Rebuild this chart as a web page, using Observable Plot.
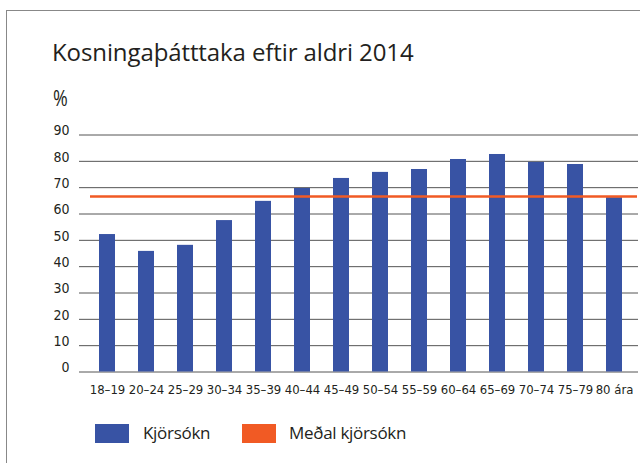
<!DOCTYPE html>
<html><head><meta charset="utf-8">
<script src="https://cdn.jsdelivr.net/npm/d3@7"></script>
<script src="https://cdn.jsdelivr.net/npm/@observablehq/plot@0.6"></script>
<style>
html,body{margin:0;padding:0;background:#fff;overflow:hidden;width:640px;height:463px;}
#wrap{position:relative;width:640px;height:463px;overflow:hidden;color:#222;}
#frame{position:absolute;left:6px;top:10px;width:634px;height:453px;border-left:1.5px solid #888;border-top:1.5px solid #888;box-sizing:border-box;}
#title{position:absolute;left:52px;top:35px;font-family:"Open Sans",sans-serif;font-size:24px;letter-spacing:-0.1px;color:#231f20;white-space:nowrap;}
#pct{position:absolute;left:53px;top:84px;font-family:"Open Sans",sans-serif;font-size:21px;color:#231f20;transform:scaleX(0.85);transform-origin:0 0;}
#chart{position:absolute;left:0;top:80px;width:640px;height:330px;}
.lg{position:absolute;top:424px;width:34px;height:19px;}
.lt{position:absolute;top:421px;font-family:"Open Sans",sans-serif;font-size:17px;letter-spacing:-0.3px;color:#231f20;white-space:nowrap;}
</style></head>
<body><div id="wrap">
<div id="frame"></div>
<div id="title">Kosningaþátttaka eftir aldri 2014</div>
<div id="pct">%</div>
<div id="chart"></div>
<div class="lg" style="left:95px;background:#3853a4"></div>
<div class="lt" style="left:143px">Kjörsókn</div>
<div class="lg" style="left:242px;background:#f15a24"></div>
<div class="lt" style="left:289px">Meðal kjörsókn</div>
</div>
<script>
const categories = ["18–19","20–24","25–29","30–34","35–39","40–44","45–49","50–54","55–59","60–64","65–69","70–74","75–79","80 ára"];
const turnout = [52.2, 45.8, 48.1, 57.5, 64.8, 69.7, 73.5, 75.8, 76.9, 80.7, 82.6, 79.6, 78.8, 66.2];
const meanTurnout = 66.6;
const yTicks = [0,10,20,30,40,50,60,70,80,90];

function has(f){
  const c=document.createElement("canvas").getContext("2d");
  c.font="20px monospace"; const a=c.measureText("18–19 abcxyz").width;
  c.font=`20px "${f}", monospace`; const b=c.measureText("18–19 abcxyz").width;
  return Math.abs(a-b)>0.5;
}
const narrow = ["Liberation Sans Narrow","DejaVu Sans Condensed","Liberation Sans"].find(has) || "sans-serif";

const data = categories.map((c,i)=>({age:c, value:turnout[i]}));

const plot = Plot.plot({
  width: 640,
  height: 330,
  marginLeft: 79,
  marginRight: 0,
  marginTop: 54.5,
  marginBottom: 38.5,
  style: {fontFamily: `"${narrow}",sans-serif`, fontSize: "13px", color:"#231f20", background:"transparent", maxWidth:"none", overflow:"visible"},
  x: {domain: categories, paddingInner: 0.6, paddingOuter: 0.3, insetLeft: 2, label: null, tickSize: 0, tickPadding: 12.5},
  y: {domain: [0, 90], ticks: yTicks, label: null, tickSize: 0, tickPadding: 10},
  marks: [
    Plot.ruleY(yTicks, {stroke: "#555", strokeWidth: 1, insetRight: 2}),
    Plot.barY(data, {x: "age", y: "value", fill: "#3853a4"}),
    Plot.ruleY([meanTurnout], {stroke: "#f15a24", strokeWidth: 2.5, insetLeft: 11, insetRight: 3}),
    Plot.axisY({ticks: yTicks, tickSize: 0, tickPadding: 10, dy: -4, fontSize: 14, label: null})
  ]
});
document.getElementById("chart").appendChild(plot);
</script>
</body></html>
